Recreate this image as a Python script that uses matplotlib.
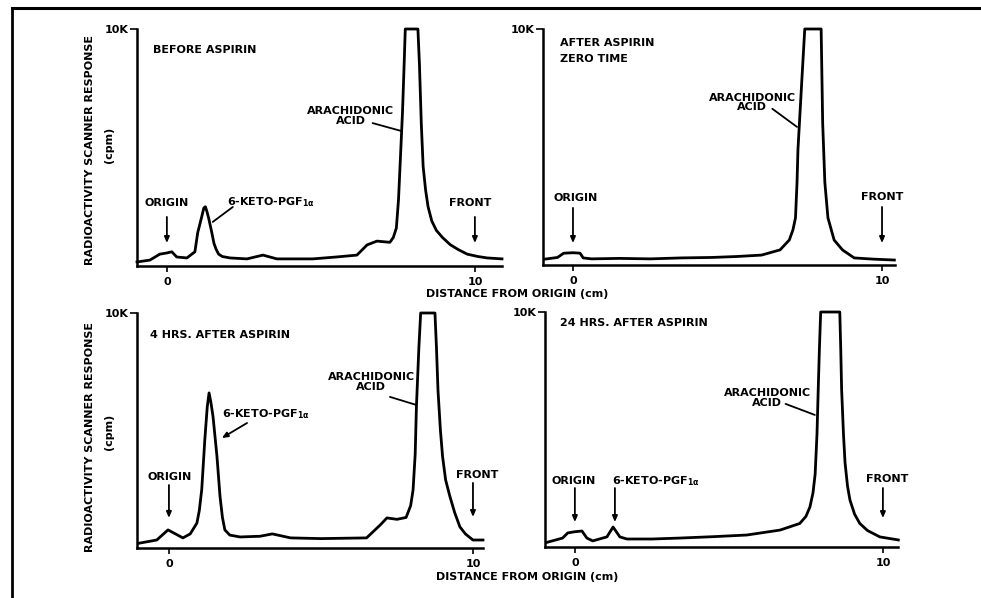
import matplotlib
matplotlib.use("Agg")
import matplotlib.pyplot as plt
from matplotlib.lines import Line2D

W, H = 981, 598
plt.rcParams['font.family'] = ['DejaVu Sans']
plt.rcParams['font.weight'] = 'bold'

# ---------------- data (distance from origin in cm, response in K cpm) -------------
before_x = [-0.97, -0.55, -0.23, 0.0, 0.16, 0.32, 0.65, 0.91, 1.0, 1.13, 1.2, 1.25, 1.3,
            1.36, 1.46, 1.53, 1.6, 1.68, 1.8, 2.05, 2.6, 3.12, 3.57, 4.74, 5.5, 6.17, 6.5,
            6.82, 7.24, 7.35, 7.45, 7.52, 7.58, 7.65, 7.7, 7.74, 8.15, 8.2, 8.26, 8.32,
            8.4, 8.48, 8.6, 8.75, 8.95, 9.2, 9.45, 9.75, 10.1, 10.4, 10.88]
before_y = [0.17, 0.25, 0.5, 0.55, 0.6, 0.38, 0.34, 0.6, 1.4, 2.07, 2.45, 2.5, 2.3,
            2.0, 1.4, 0.95, 0.7, 0.5, 0.4, 0.34, 0.3, 0.46, 0.3, 0.3, 0.38, 0.46, 0.89,
            1.05, 1.0, 1.2, 1.6, 2.8, 4.5, 6.5, 8.4, 10.0, 10.0, 8.5, 6.0, 4.2,
            3.2, 2.5, 1.9, 1.5, 1.2, 0.9, 0.7, 0.5, 0.4, 0.34, 0.3]

zero_x = [-0.9, -0.5, -0.3, 0.0, 0.23, 0.33, 0.6, 1.5, 2.5, 3.5, 4.5, 5.3, 6.1, 6.7, 7.0,
          7.12, 7.2, 7.25, 7.28, 7.4, 7.5, 8.03, 8.08, 8.15, 8.25, 8.45, 8.72, 9.1, 9.7, 10.4]
zero_y = [0.25, 0.32, 0.5, 0.52, 0.5, 0.3, 0.26, 0.28, 0.26, 0.3, 0.32, 0.36, 0.42, 0.64, 1.06,
          1.5, 2.0, 3.5, 4.9, 7.7, 10.0, 10.0, 6.0, 3.5, 2.0, 1.06, 0.64, 0.3, 0.25, 0.21]

four_x = [-1.0, -0.4, -0.03, 0.46, 0.7, 0.92, 1.0, 1.08, 1.18, 1.26, 1.32, 1.38, 1.45, 1.58,
          1.68, 1.76, 1.84, 2.0, 2.34, 3.0, 3.4, 4.0, 5.0, 6.0, 6.5, 6.95, 7.17, 7.5, 7.8,
          7.95, 8.03, 8.1, 8.14, 8.22, 8.28, 8.75, 8.8, 8.85, 8.93, 9.0, 9.1, 9.24, 9.4,
          9.57, 9.75, 10.0, 10.33]
four_y = [0.2, 0.34, 0.77, 0.43, 0.6, 1.06, 1.6, 2.5, 4.6, 6.0, 6.6, 6.2, 5.6, 3.9,
          2.2, 1.3, 0.77, 0.55, 0.47, 0.5, 0.6, 0.43, 0.4, 0.42, 0.43, 0.98, 1.28, 1.22, 1.3,
          1.8, 2.47, 4.0, 6.0, 8.5, 10.0, 10.0, 8.5, 6.7, 5.0, 3.9, 2.9, 2.2, 1.5,
          0.9, 0.6, 0.34, 0.34]

day_x = [-0.9, -0.4, -0.23, 0.0, 0.23, 0.39, 0.58, 1.04, 1.24, 1.46, 1.69, 2.5, 3.4, 4.5,
         5.58, 6.66, 7.3, 7.5, 7.63, 7.73, 7.8, 7.86, 7.9, 7.94, 7.98, 8.6, 8.63, 8.66,
         8.72, 8.77, 8.85, 8.93, 9.08, 9.25, 9.5, 9.9, 10.5]
day_y = [0.2, 0.38, 0.6, 0.65, 0.68, 0.38, 0.26, 0.43, 0.85, 0.43, 0.34, 0.34, 0.38, 0.44,
         0.51, 0.72, 1.0, 1.3, 1.7, 2.3, 3.1, 4.8, 6.7, 8.5, 10.0, 10.0, 8.5, 6.7,
         4.8, 3.6, 2.6, 2.0, 1.4, 1.0, 0.7, 0.43, 0.3]

panel_titles = [["BEFORE ASPIRIN"], ["AFTER ASPIRIN", "ZERO TIME"],
                ["4 HRS. AFTER ASPIRIN"], ["24 HRS. AFTER ASPIRIN"]]
x_ticks = [0, 10]
x_ticklabels = ["0", "10"]
y_ticks = [10]
y_ticklabels = ["10K"]
xlabel = "DISTANCE FROM ORIGIN (cm)"
ylabel = "RADIOACTIVITY SCANNER RESPONSE"
yunit = "(cpm)"

# ---------------- layout (pixel boxes: left, right, top, bottom) ----------------------
boxes = [(137, 502, 29, 266), (543, 895, 29, 265), (137, 483, 313, 548), (545, 898, 312, 547)]
xlims = [(-0.97, 10.88), (-0.97, 10.42), (-1.05, 10.33), (-0.97, 10.49)]

fig = plt.figure(figsize=(W / 100, H / 100), dpi=100)
fs = 8

def fx(px):
    return px / W

def fy(py):
    return 1 - py / H

series = [(before_x, before_y), (zero_x, zero_y), (four_x, four_y), (day_x, day_y)]
axes = []
for i, ((l, r, t, b), (xs, ys)) in enumerate(zip(boxes, series)):
    ax = fig.add_axes([fx(l), fy(b), (r - l) / W, (b - t) / H])
    ax.set_facecolor('none')
    ax.plot(xs, ys, color='black', lw=2.0, solid_joinstyle='round', clip_on=False)
    ax.set_xlim(*xlims[i])
    ax.set_ylim(0, 10)
    for s in ['top', 'right']:
        ax.spines[s].set_visible(False)
    for s in ['left', 'bottom']:
        ax.spines[s].set_linewidth(1.8)
    ax.set_xticks(x_ticks)
    ax.set_xticklabels(x_ticklabels, fontsize=fs, fontweight='bold')
    ax.set_yticks(y_ticks)
    ax.set_yticklabels(y_ticklabels, fontsize=fs, fontweight='bold')
    ax.tick_params(axis='x', direction='out', length=4, width=1.2, pad=4)
    ax.tick_params(axis='y', direction='out', length=5, width=1.2, pad=1)
    axes.append(ax)

tkw = dict(fontsize=fs, fontweight='bold', color='black')
akw = dict(arrowstyle='-|>,head_length=0.35,head_width=0.15', color='black', lw=1.3,
           shrinkA=0, shrinkB=0)
lkw = dict(arrowstyle='-', color='black', lw=1.3, shrinkA=0, shrinkB=0)

# panel 1
ax = axes[0]
ax.text(-0.45, 9.11, panel_titles[0][0], ha='left', va='center', **tkw)
ax.text(5.97, 6.33, "ARACHIDONIC\nACID", ha='center', va='center', multialignment='center',
        linespacing=1.0, **tkw)
ax.annotate("", xy=(7.6, 5.7), xytext=(6.68, 6.03), arrowprops=lkw)
ax.text(0, 2.66, "ORIGIN", ha='center', va='center', **tkw)
ax.annotate("", xy=(0, 0.97), xytext=(0, 2.07), arrowprops=akw)
ax.text(1.95, 2.7, r"6-KETO-PGF$_{\mathbf{1\alpha}}$", ha='left', va='center', **tkw)
ax.annotate("", xy=(1.49, 1.86), xytext=(2.14, 2.49), arrowprops=lkw)
ax.text(9.84, 2.66, "FRONT", ha='center', va='center', **tkw)
ax.annotate("", xy=(10, 0.97), xytext=(10, 2.07), arrowprops=akw)

# panel 2
ax = axes[1]
ax.text(-0.42, 9.4, panel_titles[1][0], ha='left', va='center', **tkw)
ax.text(-0.42, 8.73, panel_titles[1][1], ha='left', va='center', **tkw)
ax.text(5.8, 6.89, "ARACHIDONIC\nACID", ha='center', va='center', multialignment='center',
        linespacing=0.95, **tkw)
ax.annotate("", xy=(7.25, 5.85), xytext=(6.45, 6.62), arrowprops=lkw)
ax.text(0.1, 2.84, "ORIGIN", ha='center', va='center', **tkw)
ax.annotate("", xy=(0, 0.93), xytext=(0, 2.42), arrowprops=akw)
ax.text(10.0, 2.88, "FRONT", ha='center', va='center', **tkw)
ax.annotate("", xy=(10, 0.93), xytext=(10, 2.46), arrowprops=akw)

# panel 3
ax = axes[2]
ax.text(-0.63, 9.06, panel_titles[2][0], ha='left', va='center', **tkw)
ax.text(6.65, 7.06, "ARACHIDONIC\nACID", ha='center', va='center', multialignment='center',
        linespacing=1.0, **tkw)
ax.annotate("", xy=(8.13, 6.09), xytext=(7.27, 6.43), arrowprops=lkw)
ax.text(1.74, 5.7, r"6-KETO-PGF$_{\mathbf{1\alpha}}$", ha='left', va='center', **tkw)
ax.annotate("", xy=(1.74, 4.68), xytext=(2.57, 5.32), arrowprops=akw)
ax.text(0.03, 3.02, "ORIGIN", ha='center', va='center', **tkw)
ax.annotate("", xy=(0, 1.28), xytext=(0, 2.68), arrowprops=akw)
ax.text(10.13, 3.1, "FRONT", ha='center', va='center', **tkw)
ax.annotate("", xy=(10, 1.32), xytext=(10, 2.77), arrowprops=akw)

# panel 4
ax = axes[3]
ax.text(-0.49, 9.53, panel_titles[3][0], ha='left', va='center', **tkw)
ax.text(6.25, 6.34, "ARACHIDONIC\nACID", ha='center', va='center', multialignment='center',
        linespacing=1.0, **tkw)
ax.annotate("", xy=(7.79, 5.62), xytext=(6.84, 6.09), arrowprops=lkw)
ax.text(-0.03, 2.81, "ORIGIN", ha='center', va='center', **tkw)
ax.annotate("", xy=(0, 1.06), xytext=(0, 2.51), arrowprops=akw)
ax.text(1.2, 2.81, r"6-KETO-PGF$_{\mathbf{1\alpha}}$", ha='left', va='center', **tkw)
ax.annotate("", xy=(1.3, 1.06), xytext=(1.3, 2.51), arrowprops=akw)
ax.text(10.13, 2.89, "FRONT", ha='center', va='center', **tkw)
ax.annotate("", xy=(10, 1.23), xytext=(10, 2.51), arrowprops=akw)

# shared axis labels
fig.text(fx(517), fy(294), xlabel, ha='center', va='center', **tkw)
fig.text(fx(527), fy(577), xlabel, ha='center', va='center', **tkw)
for cy in (150, 437):
    fig.text(fx(90), fy(cy), ylabel, rotation=90, ha='center', va='center', **tkw)
    fig.text(fx(109), fy(cy - 5), yunit, rotation=90, ha='center', va='center', **tkw)

# outer frame of the scanned figure
fig.add_artist(Line2D([fx(12), 1.0], [fy(8), fy(8)], color='black', lw=2.2))
fig.add_artist(Line2D([fx(12), fx(12)], [fy(8), 0.0], color='black', lw=2.0))

fig.savefig("out.png", dpi=100, facecolor='white')
